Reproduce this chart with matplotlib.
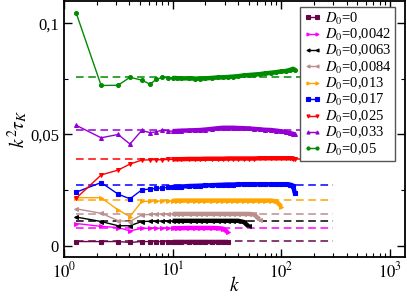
import numpy as np
import matplotlib
matplotlib.use("Agg")
import matplotlib.pyplot as plt
from matplotlib.ticker import FixedLocator, FuncFormatter, LogLocator

plt.rcParams['font.family'] = ['Liberation Serif', 'DejaVu Serif']
plt.rcParams['mathtext.fontset'] = 'stix'

# common k grid
k = [1.3, 2.2, 3.15, 4.05, 5.2, 6.2, 7.1, 8.0, 9.0, 10, 11, 12, 14, 16, 18, 20, 23, 26,
     29, 32, 36, 40, 45, 50, 56, 63, 70, 80, 90, 100, 110, 120, 128, 133]

labels = ['0', '0,0042', '0,0063', '0,0084', '0,013', '0,017', '0,025', '0,033', '0,05']
colors = ['#670748', '#ff00ff', '#000000', '#bc8f8f', '#ffa500', '#0000ff', '#ff0000',
          '#9400d3', '#008b00']
markers = ['s', '>', '<', '<', '>', 's', 'v', '^', 'o']

# k^2 tau_k for each D0
y_d0 = [0.0019, 0.0019, 0.0019, 0.0015, 0.0019, 0.0019, 0.0019, 0.0019, 0.0019, 0.0019,
        0.0019, 0.0019, 0.0019, 0.0019, 0.0019, 0.0019, 0.0019, 0.0019, 0.0019, 0.0019]
y_d1 = [0.0100, 0.0087, 0.0082, 0.0067, 0.0078, 0.0079, 0.0079, 0.0079, 0.0079, 0.0079,
        0.0079, 0.0079, 0.0080, 0.0080, 0.0080, 0.0080, 0.0080, 0.0079, 0.0077, 0.0062]
y_d2 = [0.0129, 0.0109, 0.0090, 0.0090, 0.0109, 0.0110, 0.0111, 0.0111, 0.0112, 0.0112,
        0.0112, 0.0112, 0.0112, 0.0112, 0.0112, 0.0112, 0.0112, 0.0112, 0.0112, 0.0112,
        0.0112, 0.0112, 0.0107, 0.0087]
y_d3 = [0.0166, 0.0146, 0.0113, 0.0109, 0.0139, 0.0141, 0.0142, 0.0143, 0.0143, 0.0143,
        0.0143, 0.0143, 0.0143, 0.0143, 0.0143, 0.0143, 0.0143, 0.0143, 0.0143, 0.0143,
        0.0143, 0.0143, 0.0143, 0.0143, 0.0141, 0.0118]
y_d4 = [0.0216, 0.0216, 0.0161, 0.0131, 0.0199, 0.0200, 0.0201, 0.0201, 0.0202, 0.0202,
        0.0203, 0.0203, 0.0203, 0.0203, 0.0203, 0.0203, 0.0203, 0.0203, 0.0203, 0.0203,
        0.0203, 0.0203, 0.0203, 0.0203, 0.0203, 0.0203, 0.0203, 0.0203, 0.0199, 0.0176]
y_d5 = [0.0241, 0.0284, 0.0232, 0.0211, 0.0251, 0.0255, 0.0258, 0.0260, 0.0262, 0.0264,
        0.0265, 0.0266, 0.0268, 0.0269, 0.0270, 0.0271, 0.0272, 0.0273, 0.0274, 0.0275,
        0.0275, 0.0276, 0.0276, 0.0276, 0.0276, 0.0276, 0.0276, 0.0276, 0.0276, 0.0276,
        0.0276, 0.0275, 0.0270, 0.0236]
y_d6 = [0.0214, 0.0318, 0.0340, 0.0367, 0.0385, 0.0386, 0.0387, 0.0386, 0.0388, 0.0388,
        0.0389, 0.0389, 0.0390, 0.0390, 0.0390, 0.0391, 0.0391, 0.0391, 0.0391, 0.0392,
        0.0392, 0.0392, 0.0392, 0.0392, 0.0392, 0.0393, 0.0393, 0.0393, 0.0393, 0.0393,
        0.0393, 0.0393, 0.0392, 0.0392]
y_d7 = [0.0541, 0.0485, 0.0500, 0.0457, 0.0518, 0.0508, 0.0512, 0.0520, 0.0516, 0.0515,
        0.0516, 0.0517, 0.0518, 0.0519, 0.0520, 0.0522, 0.0525, 0.0528, 0.0530, 0.0530,
        0.0530, 0.0529, 0.0528, 0.0527, 0.0525, 0.0523, 0.0521, 0.0520, 0.0517, 0.0514,
        0.0511, 0.0506, 0.0503, 0.0500]
y_d8 = [0.1044, 0.0720, 0.0721, 0.0757, 0.0744, 0.0726, 0.0748, 0.0756, 0.0755, 0.0754,
        0.0753, 0.0752, 0.0752, 0.0751, 0.0751, 0.0752, 0.0754, 0.0756, 0.0757, 0.0758,
        0.0760, 0.0762, 0.0765, 0.0767, 0.0769, 0.0771, 0.0774, 0.0777, 0.0780, 0.0783,
        0.0785, 0.0790, 0.0795, 0.0790]
series = [y_d0, y_d1, y_d2, y_d3, y_d4, y_d5, y_d6, y_d7, y_d8]

# dashed reference levels
levels = [0.0021, 0.0078, 0.0113, 0.0142, 0.0206, 0.0272, 0.0390, 0.0520, 0.0757]
level_k = [1.3, 300]

fig = plt.figure(figsize=(4.07, 2.97), dpi=100)
ax = fig.add_axes([0.157, 0.135, 0.838, 0.862])

for y, lev, c, m, lab in zip(series, levels, colors, markers, labels):
    kk = k[:len(y)]
    ax.plot(level_k, [lev, lev], '--', color=c, lw=1.1, dashes=(5, 3))
    ax.plot(kk, y, '-', color=c, lw=1.0, marker=m, ms=2.8, mew=0.8,
            label=r'$D_{\mathit{0}}$=' + lab)
    # thick dense tail
    ax.plot(kk[9:], y[9:], '-', color=c, lw=3.2, solid_capstyle='butt')

ax.set_xscale('log')
ax.set_xlim(1, 1370)
ax.set_ylim(-0.005, 0.11)

ax.yaxis.set_major_locator(FixedLocator([0, 0.05, 0.1]))
ax.yaxis.set_minor_locator(FixedLocator([0.025, 0.075]))
ax.yaxis.set_major_formatter(FuncFormatter(
    lambda v, p: '0' if abs(v) < 1e-9 else ('%g' % v).replace('.', ',')))
ax.xaxis.set_major_locator(LogLocator(base=10, numticks=10))
ax.xaxis.set_minor_locator(LogLocator(base=10, subs=np.arange(2, 10), numticks=20))
ax.xaxis.set_major_formatter(FuncFormatter(lambda v, p: r'$10^{%d}$' % round(np.log10(v))))

ax.tick_params(which='both', direction='in', top=True, right=True, labelsize=12)
ax.tick_params(which='major', length=6, width=1)
ax.tick_params(which='minor', length=3, width=0.8)
for s in ax.spines.values():
    s.set_linewidth(1.3)

ax.set_xlabel(r'$k$', fontsize=14, labelpad=-4)
ax.set_ylabel(r'$k^2\tau_K$', fontsize=14, labelpad=0)

leg = ax.legend(loc='upper right', bbox_to_anchor=(0.971, 0.977), borderaxespad=0,
                fontsize=10.5, handlelength=1.2, handletextpad=0.25, labelspacing=0.02,
                borderpad=0.25, fancybox=False, framealpha=1, edgecolor='#555555',
                numpoints=2, markerscale=0.8)
leg.get_frame().set_linewidth(1.0)

fig.savefig('out.png', dpi=100)
